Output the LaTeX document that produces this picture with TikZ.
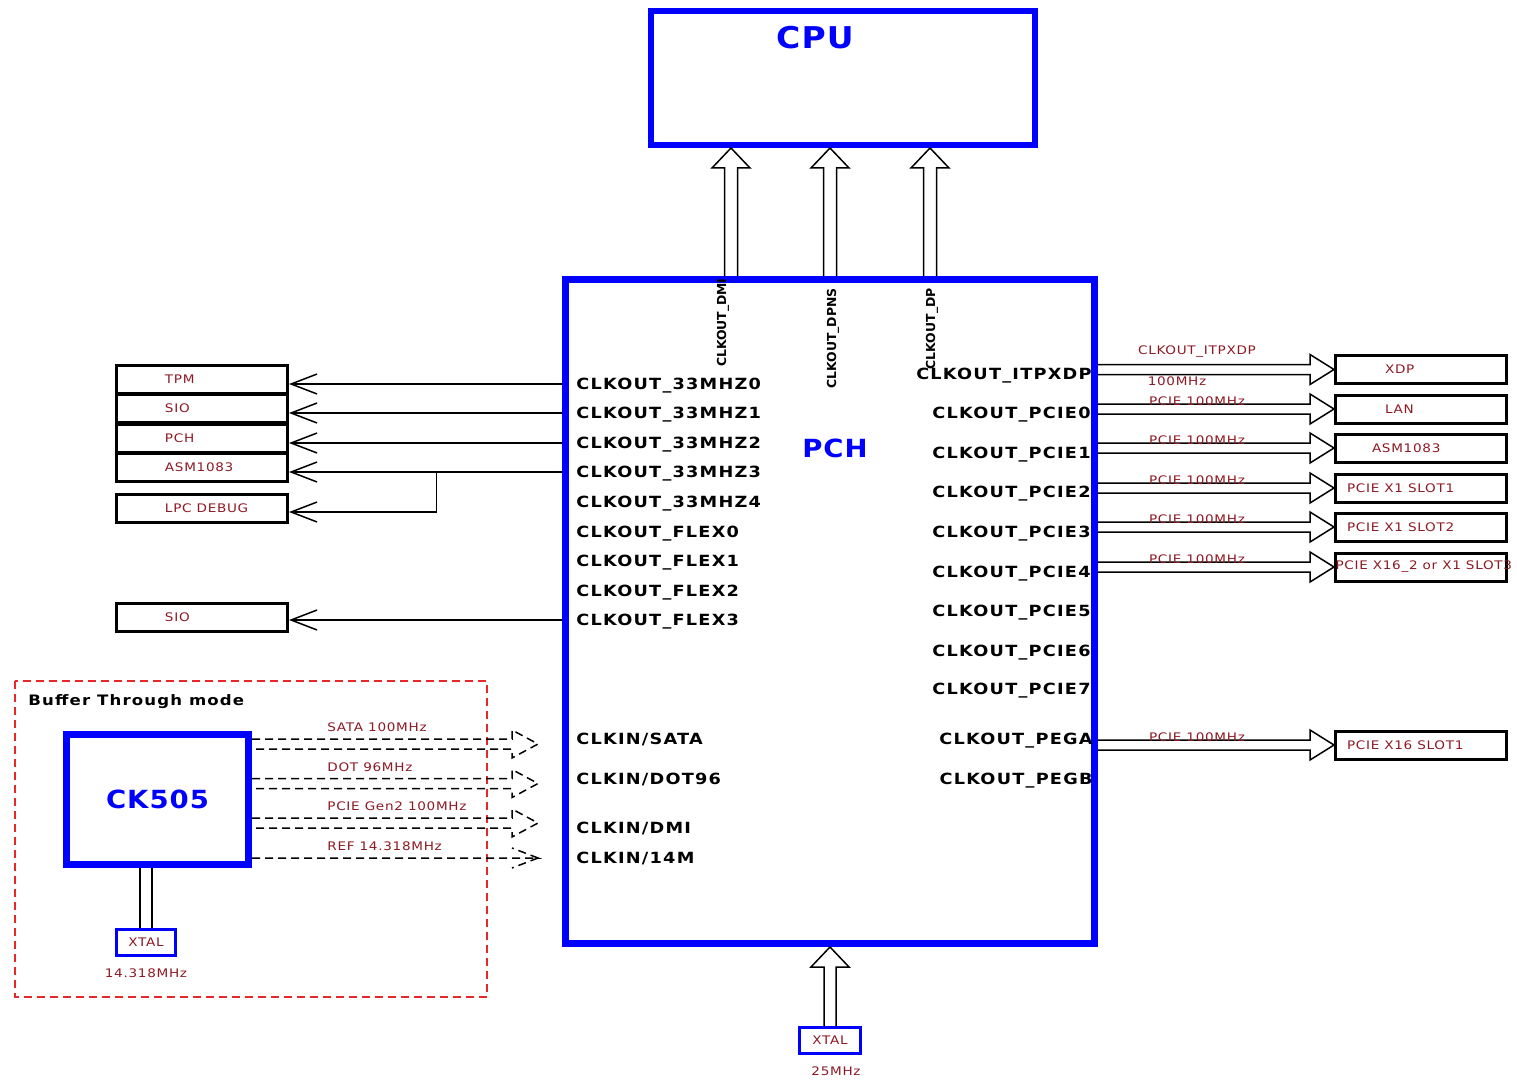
\documentclass[tikz,border=0pt]{standalone}
\usepackage{fontspec}
\setmainfont{DejaVu Sans}
\newfontfamily\pinfam[FakeStretch=1.15,LetterSpace=8]{DejaVu Sans}
\newfontfamily\devfam[FakeStretch=1.15,LetterSpace=6]{DejaVu Sans}
\newfontfamily\bigfam[FakeStretch=1.1,LetterSpace=4]{DejaVu Sans}
\usetikzlibrary{arrows.meta,calc,positioning}
\definecolor{devred}{RGB}{140,25,35}
\definecolor{boxred}{RGB}{230,40,40}
\newcommand{\pinfont}{\pinfam\bfseries\fontsize{7.7}{9}\selectfont}
\newcommand{\devfont}{\devfam\fontsize{5.9}{7}\selectfont}
\newcommand{\bigfont}{\bigfam\bfseries\fontsize{12.5}{14}\selectfont}
\newcommand{\devlbl}[2]{\makebox[85.5pt][l]{\hspace{#1}#2}}
\tikzset{
  chip/.style={draw=blue, line width=3.5pt, inner sep=0pt},
  dev/.style={draw, line width=1.5pt, minimum width=85.5pt, minimum height=14pt, inner sep=0pt, font=\devfont, text=devred},
  xtal/.style={draw=blue, line width=1.5pt, minimum height=13pt, inner sep=0pt, font=\devfont, text=devred},
  pin/.style={font=\pinfont, inner sep=0pt, text height=5.6pt, text depth=0pt},
  pinL/.style={pin, anchor=west},
  pinR/.style={pin, anchor=east},
  vpin/.style={font=\bfseries\fontsize{6.2}{7}\selectfont, inner sep=0pt, rotate=90, anchor=east},
  note/.style={font=\devfont, text=devred, inner sep=0pt},
  big/.style={font=\bigfont, text=blue, inner sep=0pt},
  tip/.style={-{Straight Barb[length=13pt,width=10pt]}, line width=0.75pt},
  hollow/.style={line width=0.75pt},
  dline/.style={line width=0.75pt, dash pattern=on 4pt off 2.5pt}
}
\begin{document}
\begin{tikzpicture}[x=0.5pt,y=-0.5pt]
	\useasboundingbox (0,0) rectangle (1517,1081);
	
	% Chips
	\node[chip, line width=3pt, minimum width=192pt, minimum height=67pt] (cpu) at (843,78) {};
	\node[big, font=\bigfam\bfseries\fontsize{15}{17}\selectfont] (cputxt) at (815,38) {CPU};
	\node[chip, minimum width=264.5pt, minimum height=332pt] (pch) at (830,611.5) {};
	\node[big] (pchtxt) at (835,448) {PCH};
	
	% PCH pins, left side
	\foreach \i/\y in {0/384,1/413,2/443,3/472,4/502}
		\node[pinL] (o\i) at (576,\y) {CLKOUT\_33MHZ\i};
	\foreach \i/\y in {0/532,1/561,2/591,3/620}
		\node[pinL] (f\i) at (576,\y) {CLKOUT\_FLEX\i};
	\node[pinL] (isata) at (576,739) {CLKIN/SATA};
	\node[pinL] (idot) at (576,779) {CLKIN/DOT96};
	\node[pinL] (idmi) at (576,828) {CLKIN/DMI};
	\node[pinL] (i14m) at (576,858) {CLKIN/14M};
	
	% PCH pins, right side
	\node[pinR] (itp) at (1092,374) {CLKOUT\_ITPXDP};
	\foreach \i/\y in {0/413,1/453,2/492,3/532,4/572,5/611,6/651,7/689}
		\node[pinR] (p\i) at (1091,\y) {CLKOUT\_PCIE\i};
	\node[pinR] (pega) at (1093,739) {CLKOUT\_PEGA};
	\node[pinR] (pegb) at (1093,779) {CLKOUT\_PEGB};
	
	% PCH pins, top side
	\node[vpin] (vdmi) at (723,278) {CLKOUT\_DMI};
	\node[vpin] (vdpns) at (833,288) {CLKOUT\_DPNS};
	\node[vpin] (vdp) at (932,288) {CLKOUT\_DP};
	
	% Clocks to CPU
	\coordinate (udmi) at (731,200);
	\coordinate (udpns) at (830,200);
	\coordinate (udp) at (930,200);
	\foreach \u in {udmi,udpns,udp}
		\draw[hollow] ($(pch.north -| \u)+(-6.5,0)$) -- ($(cpu.south -| \u)+(-6.5,20)$) -- ++(-12.5,0) -- (cpu.south -| \u) -- ($(cpu.south -| \u)+(19,20)$) -- ++(-12.5,0) -- ($(pch.north -| \u)+(6.5,0)$);
	
	% Left devices
	\node[dev] (tpm) at (202,379) {\devlbl{24.25pt}{TPM}};
	\node[dev] (sioa) at (202,408.5) {\devlbl{24.25pt}{SIO}};
	\node[dev] (pchdev) at (202,438) {\devlbl{24.25pt}{PCH}};
	\node[dev] (asml) at (202,467.5) {\devlbl{24.25pt}{ASM1083}};
	\node[dev] (lpc) at (202,508) {\devlbl{24.25pt}{LPC DEBUG}};
	\node[dev] (siob) at (202,617) {\devlbl{24.25pt}{SIO}};
	
	\foreach \p/\d in {o0/tpm,o1/sioa,o2/pchdev,o3/asml,f3/siob}
		\draw[tip] (pch.west |- \p) -- (\d.east |- \p);
	\coordinate (lpcbr) at ($(asml.east |- o3)!0.54!(pch.west |- o3)$);
	\draw[tip] (lpcbr) |- ($(lpc.east)+(0,4)$);
	
	% Right devices
	\node[dev] (xdp) at (1421,369.5) {\devlbl{24.75pt}{XDP}};
	\node[dev] (lan) at (1421,409) {\devlbl{24.75pt}{LAN}};
	\node[dev] (asmr) at (1421,448) {\devlbl{18.25pt}{ASM1083}};
	\node[dev] (sloti) at (1421,488) {\devlbl{5.75pt}{PCIE X1 SLOT1}};
	\node[dev] (slotii) at (1421,527) {\devlbl{5.75pt}{PCIE X1 SLOT2}};
	\node[dev] (slotiii) at (1421,567) {\devlbl{0pt}{PCIE X16\_2 or X1 SLOT3}};
	\node[dev] (slotx) at (1421,745) {\devlbl{5.75pt}{PCIE X16 SLOT1}};
	
	\foreach \d in {xdp,lan,asmr,sloti,slotii,slotiii,slotx}
		\draw[hollow] ($(pch.east |- \d.west)+(0,-5)$) -- ($(\d.west)+(-24,-5)$) -- ++(0,-10) -- (\d.west) -- ($(\d.west)+(-24,15)$) -- ++(0,-10) -- ($(pch.east |- \d.west)+(0,5)$);
	\node[note] (litp) at (1197,352) {CLKOUT\_ITPXDP};
	\node[note] (l100) at (1177,381) {100MHz};
	\foreach \d in {lan,asmr,sloti,slotii,slotiii,slotx}
		\node[note] (l\d) at ($(\d.west)+(-137,-8)$) {PCIE 100MHz};
	
	% Buffer Through mode
	\draw[boxred, line width=0.75pt, dash pattern=on 4pt off 2.5pt] (15,681) rectangle (487,997);
	\node[pin, anchor=west, font=\pinfam\bfseries\fontsize{7.2}{8}\selectfont] (btm) at (28,700) {Buffer Through mode};
	\node[chip, minimum width=91pt, minimum height=65pt, big] (ck) at (157.5,799.5) {CK505};
	\node[xtal, minimum width=29.5pt] (xck) at (146,942.5) {XTAL};
	\node[note, below=5.5pt of xck] (fck) {14.318MHz};
	\draw[double, double distance=5.25pt, line width=0.75pt] (xck.north |- ck.south) -- (xck.north);
	
	\coordinate (tsata) at (538,744);
	\coordinate (tdot) at (538,783.5);
	\coordinate (tdmi) at (538,823);
	\coordinate (t14m) at (538,858);
	\foreach \t in {tsata,tdot,tdmi}
		\draw[dline] ($(ck.east |- \t)+(0,-5)$) -- ($(\t)+(-26,-5)$) -- ++(0,-9) -- (\t) -- ($(\t)+(-26,14)$) -- ++(0,-9) -- ($(ck.east |- \t)+(0,5)$);
	\draw[dline] (ck.east |- t14m) -- (t14m) -- ++(-26,-10) (t14m) -- ++(-26,10);
	\node[note, anchor=west] (lsata) at (327,727) {SATA 100MHz};
	\node[note, anchor=west] (ldot) at (327,767) {DOT 96MHz};
	\node[note, anchor=west] (lgen) at (327,806) {PCIE Gen2 100MHz};
	\node[note, anchor=west] (lref) at (327,846) {REF 14.318MHz};
	
	% 25MHz crystal
	\node[xtal, minimum width=30.5pt] (xp) at (830,1040.5) {XTAL};
	\node[note, below=5.5pt of xp, xshift=3pt] (fp) {25MHz};
	\draw[hollow] ($(xp.north)+(-6,0)$) -- ($(pch.south -| xp.north)+(-6,20)$) -- ++(-13,0) -- (pch.south -| xp.north) -- ($(pch.south -| xp.north)+(19,20)$) -- ++(-13,0) -- ($(xp.north)+(6,0)$);
\end{tikzpicture}
\end{document}
